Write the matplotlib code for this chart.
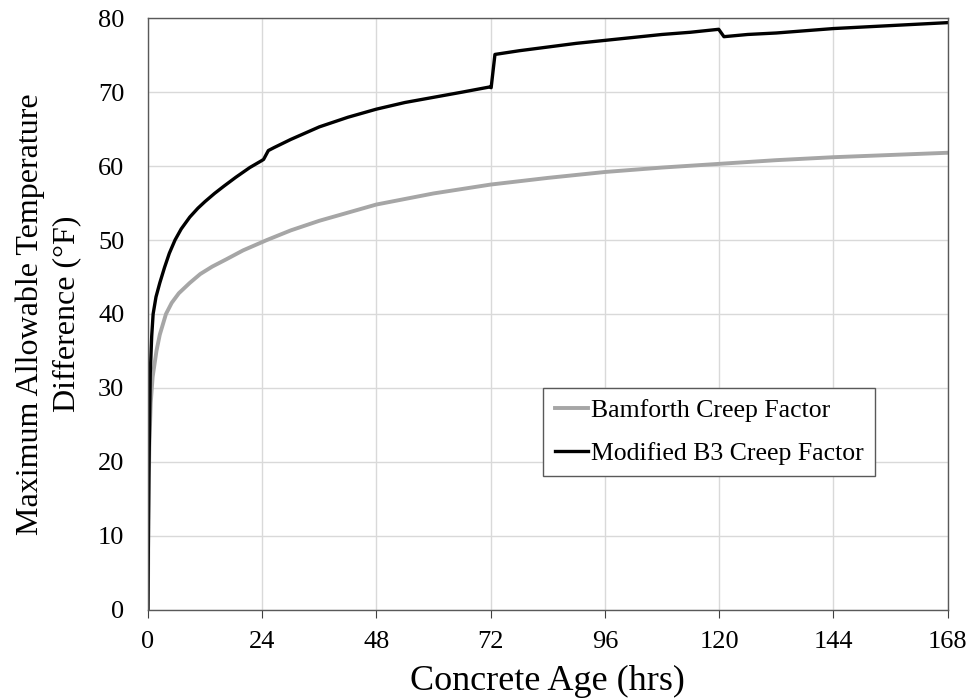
#!/usr/bin/env python3

from matplotlib import pyplot as plt

# Concrete age (hrs) and allowable temperature difference (F)
bamforth_age = [0, 0.1, 0.3, 0.6, 1, 1.8, 2.5, 3.8, 5, 6.5, 8.8, 11, 13.5, 16.5, 20, 25, 30, 36, 42,
                48, 60, 72, 84, 96, 108, 120, 132, 144, 156, 168]
bamforth_dt = [0, 12, 22, 28, 31.5, 35, 37.2, 40, 41.5, 42.8, 44.2, 45.4, 46.4, 47.4, 48.6, 50, 51.3, 52.6, 53.7,
               54.8, 56.3, 57.5, 58.4, 59.2, 59.8, 60.3, 60.8, 61.2, 61.5, 61.8]

b3_age = [0, 0.2, 0.5, 0.8, 1.1, 1.7, 2.5, 3.5, 4.5, 5.7, 7, 8.8, 10.5, 12, 14, 16, 18.5, 21.4, 23.8, 24.3,
          25.3, 26.5, 30, 36, 42, 48, 54, 60, 66, 71.8, 72.1, 72.9, 78, 84, 90, 96, 102, 108, 114, 119.9,
          121, 126, 132, 144, 156, 168]
b3_dt = [0, 18, 32, 37, 40, 42.3, 44.2, 46.3, 48.2, 50, 51.5, 53.1, 54.3, 55.2, 56.3, 57.3, 58.5, 59.8, 60.7, 60.9,
         62.1, 62.5, 63.6, 65.3, 66.6, 67.7, 68.6, 69.3, 70.0, 70.7, 70.6, 75.1, 75.6, 76.1, 76.6, 77.0, 77.4, 77.8, 78.1, 78.5,
         77.5, 77.8, 78.0, 78.6, 79.0, 79.4]

x_ticks = [0, 24, 48, 72, 96, 120, 144, 168]
y_ticks = [0, 10, 20, 30, 40, 50, 60, 70, 80]


def main():
    plt.rcParams['font.family'] = ['Liberation Serif', 'DejaVu Serif']
    fig = plt.figure(figsize=(9.73, 7.0), dpi=100)
    ax = fig.add_axes([0.152, 0.129, 0.822, 0.845])

    ax.plot(bamforth_age, bamforth_dt, color="#a6a6a6", lw=2.8, label="Bamforth Creep Factor")
    ax.plot(b3_age, b3_dt, color="black", lw=2.4, label="Modified B3 Creep Factor")

    ax.set_xlim(0, 168)
    ax.set_ylim(0, 80)
    ax.set_xticks(x_ticks)
    ax.set_yticks(y_ticks)
    ax.grid(True, color="#d9d9d9", lw=1)
    ax.set_axisbelow(True)
    for s in ax.spines.values():
        s.set_color("#595959")
        s.set_linewidth(1)
    ax.tick_params(axis="x", direction="out", length=6, color="#404040", labelsize=19, pad=9)
    ax.tick_params(axis="y", length=0, labelsize=19, pad=17)

    ax.set_xlabel("Concrete Age (hrs)", fontsize=26, labelpad=9)
    ax.set_ylabel("Maximum Allowable Temperature\nDifference (\u00b0F)", fontsize=23, labelpad=12,
                  linespacing=1.35)

    leg = ax.legend(loc="upper left", bbox_to_anchor=(0.494, 0.375), fontsize=18.5, fancybox=False,
                    framealpha=1, edgecolor="#595959", handlelength=1.3, handletextpad=0.1,
                    borderpad=0.45, labelspacing=0.75, borderaxespad=0)
    leg.get_frame().set_linewidth(1)

    fig.savefig("out.png", dpi=100)


if __name__ == "__main__":
    main()
